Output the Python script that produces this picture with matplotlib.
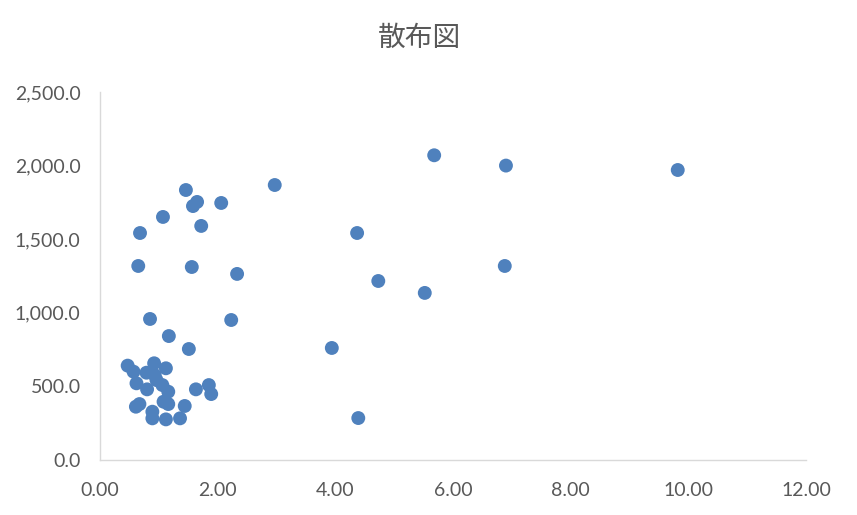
import matplotlib
matplotlib.use("Agg")
import matplotlib.pyplot as plt
from matplotlib.ticker import FuncFormatter

plt.rcParams['font.family'] = ['Lato', 'Noto Sans CJK JP', 'DejaVu Sans']

title = "散布図"
x_vals = [9.82, 5.68, 6.90, 2.97, 1.46, 1.65, 1.58, 2.06, 1.07, 1.72,
          0.68, 4.37, 0.65, 1.56, 2.33, 4.73, 6.88, 5.52, 0.85, 2.23,
          1.17, 1.51, 3.94, 4.39,
          0.47, 0.57, 0.92, 1.12, 0.79, 0.93, 0.62, 0.96, 1.06, 0.80,
          1.16, 1.63, 1.85, 1.89, 0.67, 0.61, 1.08, 1.16, 1.44, 0.89,
          0.89, 1.12, 1.36]
y_vals = [1970, 2070, 2000, 1868, 1834, 1753, 1725, 1746, 1651, 1590,
          1542, 1542, 1318, 1311, 1264, 1216, 1318, 1135, 958, 951,
          842, 754, 761, 285,
          641, 600, 657, 623, 593, 577, 521, 543, 509, 480,
          464, 480, 509, 448, 380, 362, 396, 380, 367, 328,
          283, 276, 283]
x_ticks = [0, 2, 4, 6, 8, 10, 12]
y_ticks = [0, 500, 1000, 1500, 2000, 2500]

fig = plt.figure(figsize=(8.57, 5.15), dpi=100)
ax = fig.add_axes([0.1167, 0.1068, 0.8238, 0.7146])
ax.scatter(x_vals, y_vals, s=100, color='#4f81bd', edgecolors='none', zorder=3)
ax.set_xlim(0, 12)
ax.set_ylim(0, 2500)
ax.set_xticks(x_ticks)
ax.set_yticks(y_ticks)
ax.xaxis.set_major_formatter(FuncFormatter(lambda v, p: f"{v:.2f}"))
ax.yaxis.set_major_formatter(FuncFormatter(lambda v, p: f"{v:,.1f}"))
ax.tick_params(length=0, labelsize=14, colors='#595959')
ax.tick_params(axis='y', pad=14)
ax.tick_params(axis='x', pad=16)
for s in ['top', 'right']:
    ax.spines[s].set_visible(False)
for s in ['left', 'bottom']:
    ax.spines[s].set_color('#d9d9d9')
    ax.spines[s].set_linewidth(1.0)
fig.text(0.49, 0.927, title, ha='center', va='center', fontsize=20,
         color='#595959', family=['Noto Sans CJK JP', 'DejaVu Sans'])
fig.savefig('out.png', dpi=100)
